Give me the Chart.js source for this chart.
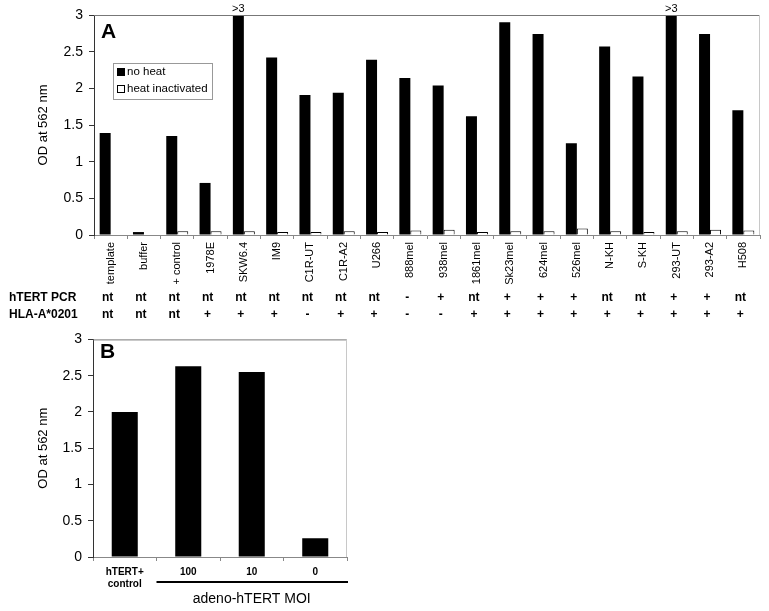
<!DOCTYPE html>
<html>
<head>
<meta charset="utf-8">
<script src="https://cdn.jsdelivr.net/npm/chart.js@4.4.1/dist/chart.umd.min.js"></script>
<style>
  body { margin: 0; background: #fff; }
  #wrap { position: relative; width: 769px; height: 611px; }
  #chartA { position: absolute; left: 0; top: 0; }
  #chartB { position: absolute; left: 0; top: 325px; }
</style>
</head>
<body>
<div id="wrap">
  <canvas id="chartA" width="769" height="325"></canvas>
  <canvas id="chartB" width="360" height="286"></canvas>
</div>
<script>
// panel A
const cellLines = ['template', 'buffer', '+ control', '1978E', 'SKW6.4', 'IM9', 'C1R-UT', 'C1R-A2', 'U266',
    '888mel', '938mel', '1861mel', 'Sk23mel', '624mel', '526mel', 'N-KH', 'S-KH', '293-UT', '293-A2', 'H508'];
const noHeat = [1.39, 0.04, 1.35, 0.71, 3, 2.42, 1.91, 1.94, 2.39, 2.14, 2.04, 1.62, 2.90, 2.74, 1.25, 2.57, 2.16, 3, 2.74, 1.70];
const heatInactivated = [null, null, 0.05, 0.05, 0.05, 0.04, 0.04, 0.05, 0.04, 0.06, 0.07, 0.04, 0.05, 0.05, 0.09, 0.05, 0.04, 0.05, 0.07, 0.06];
const overLabels = ['', '', '', '', '>3', '', '', '', '', '', '', '', '', '', '', '', '', '>3', '', ''];
const htertPcr = ['nt', 'nt', 'nt', 'nt', 'nt', 'nt', 'nt', 'nt', 'nt', '-', '+', 'nt', '+', '+', '+', 'nt', 'nt', '+', '+', 'nt'];
const hlaA0201 = ['nt', 'nt', 'nt', '+', '+', '+', '-', '+', '+', '-', '-', '+', '+', '+', '+', '+', '+', '+', '+', '+'];

// panel B
const moiLabels = [['hTERT+', 'control'], '100', '10', '0'];
const moiValues = [2.00, 2.63, 2.55, 0.26];

const yTicks = [0, 0.5, 1, 1.5, 2, 2.5, 3];

Chart.defaults.font.family = '"Liberation Sans", Arial, sans-serif';
Chart.defaults.color = '#000';
Chart.defaults.animation = false;

function yAxis(width) {
    return {
        min: 0,
        max: 3,
        afterFit: function(scale) { scale.width = width; },
        afterBuildTicks: function(scale) { scale.ticks = yTicks.map(v => ({ value: v })); },
        ticks: { font: { size: 14 }, padding: 6, callback: v => String(v) },
        grid: { drawOnChartArea: false, drawTicks: true, tickLength: 5, color: '#333' },
        border: { display: true, color: '#333' },
        title: {
            display: true,
            text: 'OD at 562 nm',
            font: { size: 13 },
            padding: { top: 36, bottom: 0 }
        }
    };
}

const frame = {
    id: 'frame',
    afterDatasetsDraw(chart) {
        const { ctx, chartArea: a } = chart;
        ctx.save();
        ctx.lineWidth = 1;
        ctx.strokeStyle = '#777';
        ctx.beginPath();
        ctx.moveTo(a.left, a.top + 0.5);
        ctx.lineTo(a.right, a.top + 0.5);
        ctx.stroke();
        ctx.strokeStyle = '#c8c8c8';
        ctx.beginPath();
        ctx.moveTo(a.right - 0.5, a.top);
        ctx.lineTo(a.right - 0.5, a.bottom);
        ctx.stroke();
        ctx.restore();
    }
};

const panelA = {
    id: 'panelA',
    afterDraw(chart) {
        const { ctx, chartArea: a } = chart;
        const x = chart.scales.x;
        ctx.save();
        // panel letter
        ctx.font = 'bold 21px "Liberation Sans", Arial, sans-serif';
        ctx.fillStyle = '#000';
        ctx.textAlign = 'left';
        ctx.textBaseline = 'alphabetic';
        ctx.fillText('A', 101, 38);

        // legend
        ctx.strokeStyle = '#999';
        ctx.lineWidth = 1;
        ctx.strokeRect(113.5, 63.5, 99, 36);
        const items = chart.data.datasets;
        ctx.font = '11.5px "Liberation Sans", Arial, sans-serif';
        ctx.textBaseline = 'middle';
        items.forEach((ds, i) => {
            const yy = 72 + i * 17;
            ctx.fillStyle = ds.backgroundColor;
            ctx.fillRect(117.5, yy - 3.5, 7, 7);
            ctx.strokeStyle = '#000';
            ctx.strokeRect(117.5, yy - 3.5, 7, 7);
            ctx.fillStyle = '#000';
            ctx.fillText(ds.label, 127, yy);
        });

        // ">3" marks over clipped bars
        const meta = chart.getDatasetMeta(0);
        ctx.font = '11px "Liberation Sans", Arial, sans-serif';
        ctx.textAlign = 'center';
        ctx.textBaseline = 'bottom';
        overLabels.forEach((t, i) => {
            if (t) ctx.fillText(t, meta.data[i].x, a.top - 1);
        });

        // table rows under the axis
        ctx.font = 'bold 12px "Liberation Sans", Arial, sans-serif';
        ctx.textBaseline = 'middle';
        ctx.textAlign = 'left';
        ctx.fillText('hTERT PCR', 9, 298);
        ctx.fillText('HLA-A*0201', 9, 315);
        ctx.textAlign = 'center';
        cellLines.forEach((c, i) => {
            const cx = x.getPixelForValue(i) - 3;
            ctx.fillText(htertPcr[i], cx, 298);
            ctx.fillText(hlaA0201[i], cx, 315);
        });
        ctx.restore();
    }
};

const panelB = {
    id: 'panelB',
    afterDraw(chart) {
        const { ctx, chartArea: a } = chart;
        const x = chart.scales.x;
        ctx.save();
        ctx.font = 'bold 21px "Liberation Sans", Arial, sans-serif';
        ctx.fillStyle = '#000';
        ctx.textAlign = 'left';
        ctx.textBaseline = 'alphabetic';
        ctx.fillText('B', 100, 33);

        // bracket under the MOI groups
        const x0 = (x.getPixelForValue(0) + x.getPixelForValue(1)) / 2;
        ctx.strokeStyle = '#000';
        ctx.lineWidth = 2;
        ctx.beginPath();
        ctx.moveTo(x0, 257);
        ctx.lineTo(a.right + 1, 257);
        ctx.stroke();
        ctx.font = '14px "Liberation Sans", Arial, sans-serif';
        ctx.textAlign = 'center';
        ctx.textBaseline = 'middle';
        ctx.fillText('adeno-hTERT MOI', (x0 + a.right) / 2, 274);
        ctx.restore();
    }
};

new Chart(document.getElementById('chartA').getContext('2d'), {
    type: 'bar',
    data: {
        labels: cellLines,
        datasets: [{
            label: 'no heat',
            data: noHeat,
            backgroundColor: '#000',
            borderColor: '#000',
            borderWidth: 0,
            categoryPercentage: 0.66,
            barPercentage: 1.0
        }, {
            label: 'heat inactivated',
            data: heatInactivated,
            backgroundColor: '#fff',
            borderColor: '#000',
            borderWidth: 1,
            categoryPercentage: 0.66,
            barPercentage: 1.0
        }]
    },
    options: {
        responsive: false,
        layout: { padding: { left: 0, top: 15, right: 9, bottom: 0 } },
        plugins: { legend: { display: false }, tooltip: { enabled: false } },
        scales: {
            x: {
                afterFit: function(scale) { scale.height = 90; },
                ticks: { font: { size: 11 }, minRotation: 90, maxRotation: 90, autoSkip: false, padding: 3 },
                grid: { offset: true, drawOnChartArea: false, drawTicks: true, tickLength: 4, color: '#888' },
                border: { display: true, color: '#888' }
            },
            y: yAxis(94)
        }
    },
    plugins: [frame, panelA]
});

new Chart(document.getElementById('chartB').getContext('2d'), {
    type: 'bar',
    data: {
        labels: moiLabels,
        datasets: [{
            label: 'OD',
            data: moiValues,
            backgroundColor: '#000',
            borderWidth: 0,
            categoryPercentage: 0.41,
            barPercentage: 1.0
        }]
    },
    options: {
        responsive: false,
        layout: { padding: { left: 0, top: 11, right: 13, bottom: 0 } },
        plugins: { legend: { display: false }, tooltip: { enabled: false } },
        scales: {
            x: {
                afterFit: function(scale) { scale.height = 54; },
                ticks: { font: { size: 10, weight: 'bold' }, maxRotation: 0, autoSkip: false, padding: 5 },
                grid: { offset: true, drawOnChartArea: false, drawTicks: true, tickLength: 4, color: '#888' },
                border: { display: true, color: '#888' }
            },
            y: yAxis(93)
        }
    },
    plugins: [frame, panelB]
});
</script>
</body>
</html>
